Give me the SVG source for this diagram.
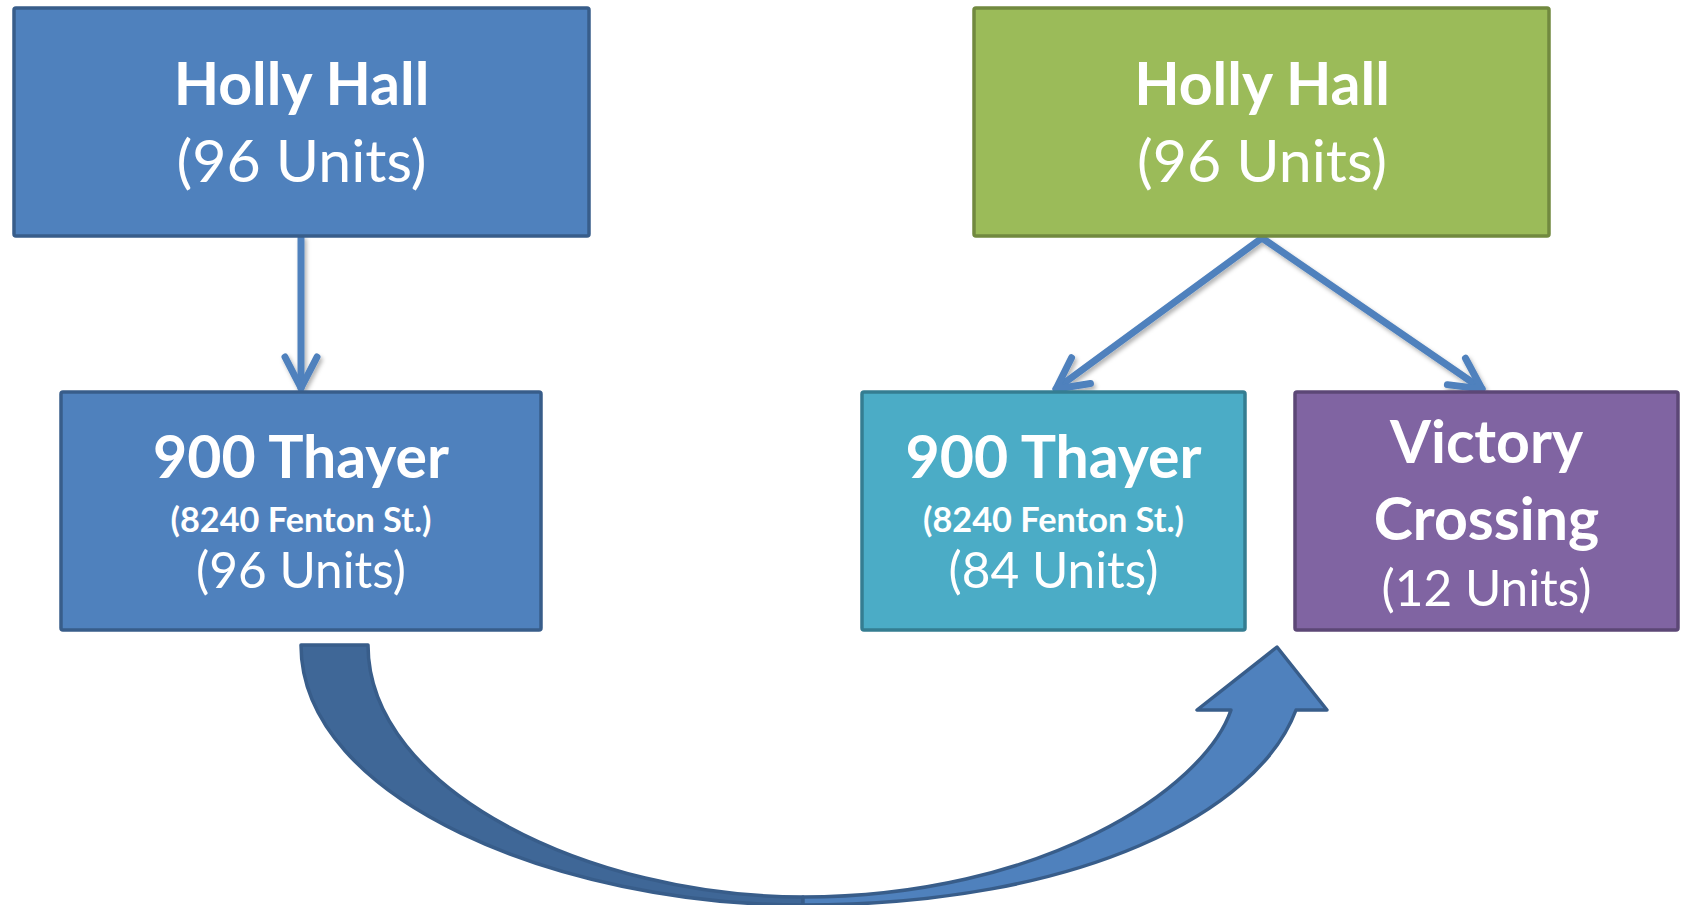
<svg xmlns="http://www.w3.org/2000/svg" width="1684" height="905" viewBox="0 0 1684 905">
  <style>
    .box { stroke-width: 3.5; }
    .t { font-family: Lato, "Liberation Sans", sans-serif; fill: #ffffff; text-anchor: middle; }
    .b { font-weight: bold; }
    .big { font-size: 59px; }
    .mid { font-size: 49.5px; }
    .sm { font-size: 34.3px; }
    .conn { fill: none; stroke: #4f81bd; stroke-width: 7; stroke-linecap: round; stroke-linejoin: round; }
    .curve { stroke: #385d8a; stroke-width: 3.5; stroke-linejoin: round; }
  </style>
  <defs>
    <filter id="sh" x="-20%" y="-20%" width="140%" height="140%">
      <feDropShadow dx="2" dy="3" stdDeviation="2" flood-color="#000000" flood-opacity="0.3"/>
    </filter>
    <marker id="ah" markerUnits="userSpaceOnUse" viewBox="-40 -25 50 50" refX="0" refY="0" markerWidth="50" markerHeight="50" orient="auto">
      <path d="M -31,-16 L 0,0 L -31,16" fill="none" stroke="#4f81bd" stroke-width="7" stroke-linecap="round" stroke-linejoin="round"/>
    </marker>
  </defs>
  <rect width="1684" height="905" fill="#ffffff"/>

  <g id="connectors">
    <g filter="url(#sh)">
      <path class="conn" d="M 301,238 L 301,388" marker-end="url(#ah)"/>
      <path class="conn" d="M 1262,238 L 1056,389" marker-end="url(#ah)"/>
      <path class="conn" d="M 1262,238 L 1482,389" marker-end="url(#ah)"/>
    </g>
    <g id="curved-arrow">
      <path class="curve" fill="#3f6797" d="M 301,645 L 368,645 C 368,790 590,897 803,897 L 803,905 C 560,905 301,800 301,645 Z"/>
      <path class="curve" fill="#4f81bd" d="M 803,905 C 1080,905 1258,812 1296,710 L 1327,710 L 1277,647 L 1197,710 L 1231,710 C 1204,790 1040,897 803,897 Z"/>
    </g>
  </g>

  <g id="holly-hall-before">
    <rect class="box" x="14" y="8" width="575" height="228" rx="2" fill="#4f81bd" stroke="#385d8a"/>
    <text class="t b big" x="301.5" y="105">Holly Hall</text>
    <text class="t big" x="301.5" y="182">(96 Units)</text>
  </g>

  <g id="thayer-before">
    <rect class="box" x="61" y="392" width="480" height="238" rx="2" fill="#4f81bd" stroke="#385d8a"/>
    <text class="t b big" x="301" y="478">900 Thayer</text>
    <text class="t b sm" x="301" y="532">(8240 Fenton St.)</text>
    <text class="t mid" x="301" y="588">(96 Units)</text>
  </g>

  <g id="holly-hall-after">
    <rect class="box" x="974" y="8" width="575" height="228" rx="2" fill="#9bbb59" stroke="#71893f"/>
    <text class="t b big" x="1262" y="105">Holly Hall</text>
    <text class="t big" x="1262" y="182">(96 Units)</text>
  </g>

  <g id="thayer-after">
    <rect class="box" x="862" y="392" width="383" height="238" rx="2" fill="#4bacc6" stroke="#357d91"/>
    <text class="t b big" x="1053.5" y="478">900 Thayer</text>
    <text class="t b sm" x="1053.5" y="532">(8240 Fenton St.)</text>
    <text class="t mid" x="1053.5" y="588">(84 Units)</text>
  </g>

  <g id="victory-crossing">
    <rect class="box" x="1295" y="392" width="383" height="238" rx="2" fill="#8064a2" stroke="#5c4776"/>
    <text class="t b big" x="1486.5" y="463">Victory</text>
    <text class="t b big" x="1486.5" y="540">Crossing</text>
    <text class="t mid" x="1486.5" y="606">(12 Units)</text>
  </g>
</svg>
